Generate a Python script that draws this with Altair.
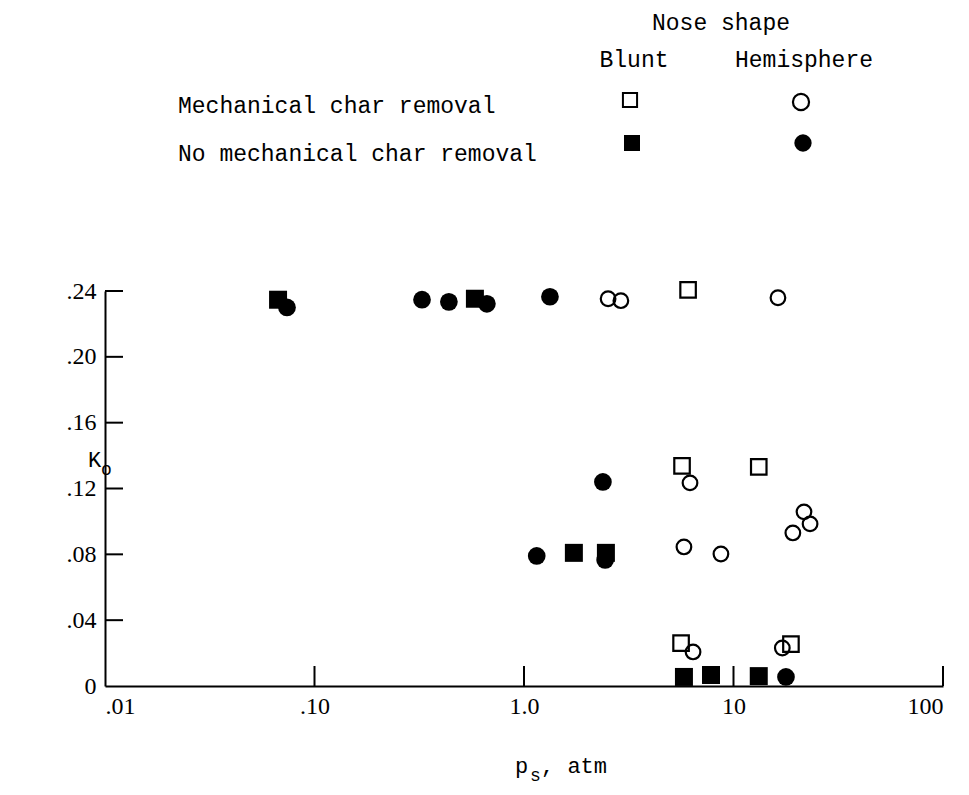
import altair as alt
import pandas as pd

# ---- data ----
# Blunt nose, mechanical char removal (open squares)
bm_p = [6.07, 5.68, 13.2, 5.62, 18.8]
bm_k = [0.2407, 0.1337, 0.1331, 0.0261, 0.0255]
# Hemisphere nose, mechanical char removal (open circles)
hm_p = [2.52, 2.90, 16.3, 6.20, 21.7, 23.2, 19.2, 5.80, 8.71, 6.41, 17.1]
hm_k = [0.2353, 0.2341, 0.2359, 0.1234, 0.1058, 0.0985, 0.0930, 0.0845, 0.0802, 0.0207, 0.0231]
# Blunt nose, no mechanical char removal (filled squares)
bn_p = [0.067, 0.583, 1.73, 2.46, 5.80, 7.81, 13.2]
bn_k = [0.2347, 0.2353, 0.0809, 0.0809, 0.0055, 0.0067, 0.0060]
# Hemisphere nose, no mechanical char removal (filled circles)
hn_p = [0.0739, 0.326, 0.438, 0.665, 1.33, 2.38, 1.15, 2.44, 17.8]
hn_k = [0.2300, 0.2347, 0.2334, 0.2322, 0.2365, 0.1240, 0.0790, 0.0766, 0.0055]

x_ticks = [0.01, 0.1, 1, 10, 100]
y_ticks = [0, 0.04, 0.08, 0.12, 0.16, 0.20, 0.24]

W, H = 838, 395
MONO = "Liberation Mono"
SERIF = "Liberation Serif"

xscale = alt.Scale(type="log", domain=[0.01, 100], nice=False)
yscale = alt.Scale(domain=[0, 0.24], nice=False, zero=False)

xaxis = alt.Axis(values=x_ticks, title=None, labelPadding=8,
                 labelExpr="datum.value < 0.05 ? '.01' : datum.value < 0.5 ? '.10' : datum.value < 5 ? '1.0' : datum.value < 50 ? '10' : '100'")
yaxis = alt.Axis(values=y_ticks, title=None, labelPadding=9,
                 labelExpr="datum.value == 0 ? '0' : replace(format(datum.value, '.2f'), '0.', '.')")


def pts(p, k, shape, filled, size, sw):
    df = pd.DataFrame({"p": p, "K": k})
    return alt.Chart(df).mark_point(shape=shape, filled=filled, size=size,
                                    strokeWidth=sw, color="black", opacity=1).encode(
        x=alt.X("p:Q", scale=xscale, axis=xaxis),
        y=alt.Y("K:Q", scale=yscale, axis=yaxis),
    )


layers = []
layers.append(pts(bm_p, bm_k, "square", False, 240, 2.2))
layers.append(pts(hm_p, hm_k, "circle", False, 214, 2.2))
layers.append(pts(bn_p, bn_k, "square", True, 324, 1))
layers.append(pts(hn_p, hn_k, "circle", True, 314, 1))

# inward tick marks
xt = pd.DataFrame({"xt": [0.1, 1, 10, 100]})
layers.append(alt.Chart(xt).mark_rule(color="black", strokeWidth=2).encode(
    x=alt.X("xt:Q", scale=xscale, axis=xaxis), y=alt.value(H), y2=alt.value(H - 20)))
yt = pd.DataFrame({"yt": [0.04, 0.08, 0.12, 0.16, 0.20, 0.24]})
layers.append(alt.Chart(yt).mark_rule(color="black", strokeWidth=2).encode(
    y=alt.Y("yt:Q", scale=yscale, axis=yaxis), x=alt.value(0), x2=alt.value(18)))


def txt(s, x, y, size=23, align="left", font=MONO):
    return alt.Chart(pd.DataFrame({"t": [s]})).mark_text(
        font=font, fontSize=size, align=align, baseline="alphabetic", color="black").encode(
        x=alt.value(x), y=alt.value(y), text="t:N")


def sym(x, y, shape, filled, size, sw):
    return alt.Chart(pd.DataFrame({"t": [0]})).mark_point(
        shape=shape, filled=filled, size=size, strokeWidth=sw, color="black", opacity=1).encode(
        x=alt.value(x), y=alt.value(y))


# legend block (plot-area coordinates: origin at left/top of plot)
layers.append(txt("Nose shape", 616, -261, align="center"))
layers.append(txt("Blunt", 529, -224, align="center"))
layers.append(txt("Hemisphere", 699, -224, align="center"))
layers.append(txt("Mechanical char removal", 73, -178))
layers.append(txt("No mechanical char removal", 73, -130))
layers.append(sym(525, -191, "square", False, 200, 2))
layers.append(sym(696, -189, "circle", False, 260, 2.2))
layers.append(sym(527, -148, "square", True, 256, 1))
layers.append(sym(698, -148, "circle", True, 300, 1))

# axis titles
layers.append(txt("K", -17, 176, size=22))
layers.append(txt("o", -4, 184, size=18))
layers.append(txt("p", 410, 482, size=22))
layers.append(txt("s", 425, 490, size=18))
layers.append(txt(", atm", 436, 482, size=22))

chart = alt.layer(*layers).properties(
    width=W, height=H,
    autosize=alt.AutoSizeParams(type="none"),
    padding={"left": 97, "top": 283, "right": 18, "bottom": 104},
).configure_axis(
    domainColor="black", domainWidth=2, grid=False, ticks=False,
    labelFont=SERIF, labelFontSize=24, labelColor="black",
).configure_view(stroke="transparent")

chart.save("out.html", embed_options={"renderer": "svg", "actions": False})
